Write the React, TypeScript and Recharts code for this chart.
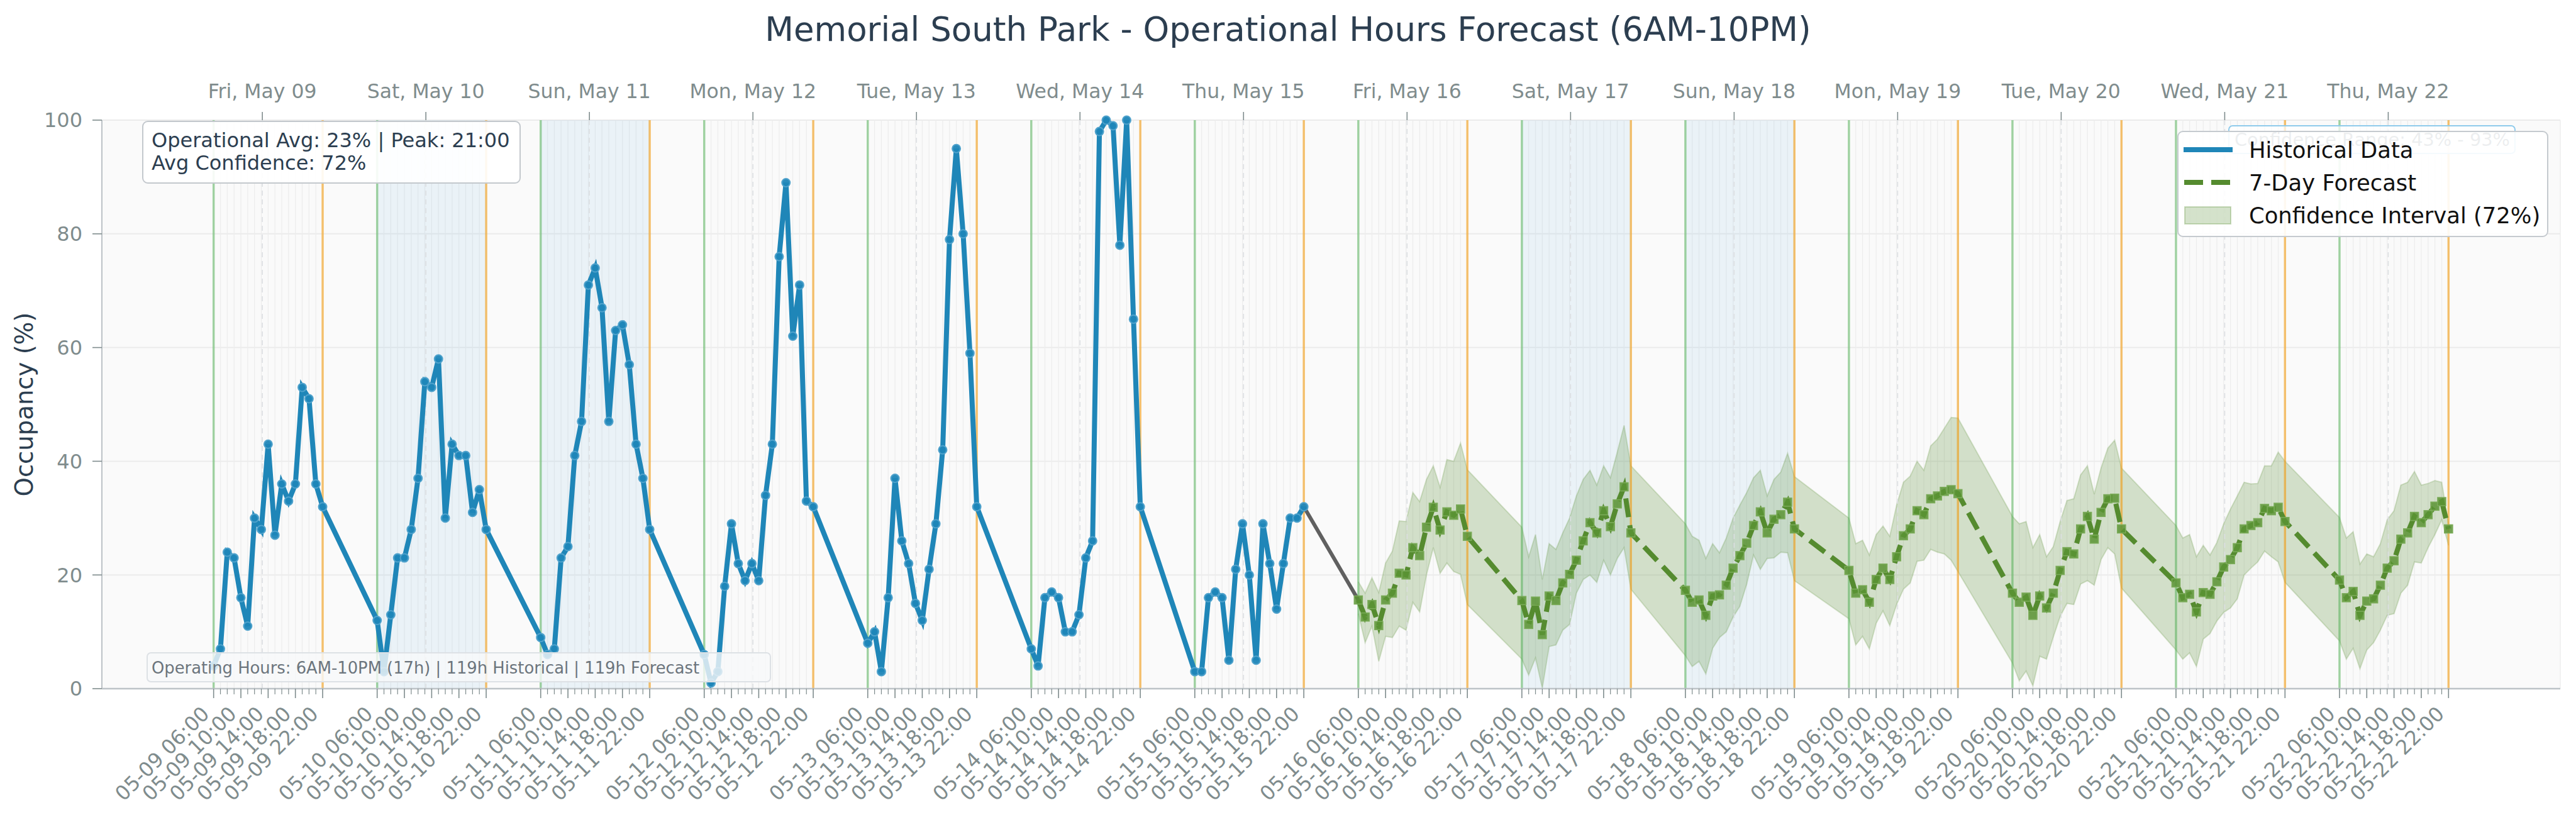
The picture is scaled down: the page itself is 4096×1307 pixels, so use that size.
import React from 'react';
import {
  ComposedChart,
  Line,
  Area,
  XAxis,
  YAxis,
  CartesianGrid,
  ReferenceLine,
  ReferenceArea,
  Legend,
} from 'recharts';

const W = 4096;
const H = 1307;
const FONT = '"DejaVu Sans", "Noto Sans", sans-serif';

// ---------- categories / labels ----------
const DAY_CODES = ['05-09', '05-10', '05-11', '05-12', '05-13', '05-14', '05-15', '05-16', '05-17', '05-18', '05-19', '05-20', '05-21', '05-22'];
const DAY_LABELS = ['Fri, May 09', 'Sat, May 10', 'Sun, May 11', 'Mon, May 12', 'Tue, May 13', 'Wed, May 14', 'Thu, May 15', 'Fri, May 16', 'Sat, May 17', 'Sun, May 18', 'Mon, May 19', 'Tue, May 20', 'Wed, May 21', 'Thu, May 22'];
const WEEKEND_DAY_INDEX = [1, 2, 8, 9];
const OPEN_HOURS = [6, 7, 8, 9, 10, 11, 12, 13, 14, 15, 16, 17, 18, 19, 20, 21, 22];
const MAJOR_HOURS = [6, 10, 14, 18, 22];
const OPEN_HOUR = 6;
const CLOSE_HOUR = 22;
const DAY_LABEL_HOUR = 13.15;
const Y_TICKS = [0, 20, 40, 60, 80, 100];

// ---------- historical occupancy (%) 06:00..22:00 ----------
const HIST_05_09 = [4, 7, 24, 23, 16, 11, 30, 28, 43, 27, 36, 33, 36, 53, 51, 36, 32];
const HIST_05_10 = [12, 3, 13, 23, 23, 28, 37, 54, 53, 58, 30, 43, 41, 41, 31, 35, 28];
const HIST_05_11 = [9, 6, 7, 23, 25, 41, 47, 71, 74, 67, 47, 63, 64, 57, 43, 37, 28];
const HIST_05_12 = [6, 1, 3, 18, 29, 22, 19, 22, 19, 34, 43, 76, 89, 62, 71, 33, 32];
const HIST_05_13 = [8, 10, 3, 16, 37, 26, 22, 15, 12, 21, 29, 42, 79, 95, 80, 59, 32];
const HIST_05_14 = [7, 4, 16, 17, 16, 10, 10, 13, 23, 26, 98, 100, 99, 78, 100, 65, 32];
const HIST_05_15 = [3, 3, 16, 17, 16, 5, 21, 29, 20, 5, 29, 22, 14, 22, 30, 30, 32];

// ---------- forecast (%) 06:00..22:00 ----------
const FC_05_16 = [15.6, 12.6, 14.8, 11.1, 15.6, 16.8, 20.3, 20.0, 24.8, 23.4, 28.4, 31.9, 27.9, 31.1, 30.5, 31.6, 26.8];
const FC_05_17 = [15.5, 11.3, 15.4, 9.5, 16.3, 15.5, 18.6, 20.1, 22.6, 26.0, 29.2, 27.4, 31.3, 28.5, 32.5, 35.5, 27.4];
const FC_05_18 = [17.3, 15.2, 15.6, 12.9, 16.3, 16.5, 18.2, 21.2, 23.4, 25.6, 28.7, 31.1, 27.4, 29.8, 30.6, 32.8, 28.1];
const FC_05_19 = [20.8, 16.8, 17.4, 15.2, 19.2, 21.2, 19.2, 23.2, 26.9, 28.1, 31.3, 30.6, 33.4, 33.9, 34.7, 35.0, 34.3];
const FC_05_20 = [16.8, 15.2, 16.1, 12.9, 16.3, 14.2, 16.8, 20.8, 24.1, 23.7, 28.1, 30.3, 26.3, 31.0, 33.4, 33.5, 28.1];
const FC_05_21 = [18.6, 16.0, 16.6, 13.5, 16.9, 16.6, 18.8, 21.4, 22.7, 24.8, 28.1, 28.7, 29.2, 31.7, 31.3, 31.9, 29.4];
const FC_05_22 = [19.1, 16.0, 17.1, 12.9, 15.4, 15.8, 18.2, 21.2, 22.5, 26.3, 27.4, 30.3, 29.2, 30.6, 32.1, 32.9, 28.1];

// ---------- confidence interval bounds (%) ----------
const LO_05_16 = [13.2, 8.1, 11.0, 4.8, 9.2, 9.0, 11.0, 10.3, 15.2, 13.5, 20.0, 24.8, 20.3, 22.1, 20.6, 20.1, 14.8];
const HI_05_16 = [18.8, 16.8, 19.5, 16.9, 22.1, 24.2, 29.5, 29.4, 34.5, 32.9, 36.8, 39.2, 35.4, 40.3, 40.0, 43.2, 38.5];
const LO_05_17 = [5.2, 2.4, 5.4, 0.1, 7.4, 7.7, 10.3, 11.3, 16.8, 19.2, 20.0, 18.7, 22.6, 20.0, 22.9, 24.8, 17.5];
const HI_05_17 = [28.4, 23.2, 27.1, 19.2, 25.5, 24.5, 27.4, 30.0, 33.9, 36.8, 38.4, 35.8, 39.2, 37.1, 41.6, 46.3, 39.2];
const LO_05_18 = [5.8, 3.9, 4.8, 2.6, 7.1, 9.0, 10.0, 12.6, 14.5, 18.4, 23.5, 21.0, 22.9, 23.0, 24.0, 23.9, 19.0];
const HI_05_18 = [29.0, 26.8, 26.1, 22.9, 25.5, 23.9, 26.5, 30.0, 32.3, 34.5, 37.1, 38.4, 33.9, 36.8, 38.1, 41.4, 37.3];
const LO_05_19 = [12.3, 7.7, 9.2, 7.0, 11.5, 13.7, 11.1, 14.8, 17.5, 18.6, 22.4, 22.6, 24.5, 24.0, 23.7, 22.6, 20.6];
const HI_05_19 = [30.0, 25.5, 26.1, 23.5, 27.1, 28.6, 26.8, 32.3, 36.3, 37.4, 40.0, 38.4, 42.7, 43.9, 45.8, 47.7, 47.6];
const LO_05_20 = [4.5, 1.4, 3.1, 0.5, 5.7, 5.2, 9.1, 12.7, 15.0, 14.8, 18.4, 19.0, 18.2, 22.7, 24.8, 23.7, 17.7];
const HI_05_20 = [30.3, 29.0, 29.4, 24.8, 27.1, 23.2, 25.0, 29.4, 33.1, 33.4, 37.6, 39.2, 34.2, 38.8, 42.3, 43.7, 38.8];
const LO_05_21 = [6.8, 5.2, 6.3, 3.9, 8.7, 9.7, 11.9, 13.4, 14.2, 15.8, 20.0, 21.2, 22.3, 24.2, 23.2, 22.3, 18.7];
const HI_05_21 = [28.7, 26.5, 27.1, 23.2, 25.2, 23.5, 25.7, 29.0, 31.6, 33.9, 36.3, 36.0, 36.1, 39.2, 39.2, 41.6, 40.0];
const LO_05_22 = [8.4, 5.2, 7.1, 3.5, 6.8, 8.1, 10.3, 12.9, 13.2, 16.8, 18.2, 22.3, 22.1, 24.8, 27.1, 29.7, 25.2];
const HI_05_22 = [30.1, 26.5, 27.6, 21.9, 23.7, 23.2, 25.5, 29.7, 31.3, 35.8, 36.3, 38.2, 35.8, 36.1, 36.6, 36.3, 29.0];

const HIST_DAYS = [HIST_05_09, HIST_05_10, HIST_05_11, HIST_05_12, HIST_05_13, HIST_05_14, HIST_05_15];
const FC_DAYS = [FC_05_16, FC_05_17, FC_05_18, FC_05_19, FC_05_20, FC_05_21, FC_05_22];
const LO_DAYS = [LO_05_16, LO_05_17, LO_05_18, LO_05_19, LO_05_20, LO_05_21, LO_05_22];
const HI_DAYS = [HI_05_16, HI_05_17, HI_05_18, HI_05_19, HI_05_20, HI_05_21, HI_05_22];
const FC_START_DAY = HIST_DAYS.length;

// time axis value = hours since 05-09 00:00
const histData = HIST_DAYS.flatMap((vals, d) => vals.map((v, i) => ({ t: d * 24 + OPEN_HOURS[i], hist: v })));
const fcData = FC_DAYS.flatMap((vals, j) =>
  vals.map((v, i) => ({ t: (j + FC_START_DAY) * 24 + OPEN_HOURS[i], fc: v, band: [LO_DAYS[j][i], HI_DAYS[j][i]] }))
);
const bridgeData = [
  { t: histData[histData.length - 1].t, bridge: histData[histData.length - 1].hist },
  { t: fcData[0].t, bridge: fcData[0].fc },
];

const hourTicks = DAY_CODES.flatMap((_, d) => OPEN_HOURS.map((h) => d * 24 + h));
const dayTicks = DAY_CODES.map((_, d) => d * 24 + DAY_LABEL_HOUR);
const firstT = OPEN_HOUR;
const lastT = (DAY_CODES.length - 1) * 24 + CLOSE_HOUR;
const pad = (lastT - firstT) * 0.05;
const X_DOMAIN: [number, number] = [firstT - pad, lastT + pad];

const C_HIST = '#1f86b8';
const C_FC = '#558b2f';
const C_TICK = '#7f8c8d';
const C_TEXT = '#2c3e50';

const two = (n: number) => (n < 10 ? '0' + n : '' + n);

const BottomTick = (props: any) => {
  const { x, y, payload } = props;
  const v = payload.value as number;
  const d = Math.floor(v / 24);
  const h = Math.round(v - d * 24);
  const major = MAJOR_HOURS.indexOf(h) >= 0;
  const lx = x - 5;
  const ly = y + 42;
  return (
    <g>
      <line x1={x} x2={x} y1={y} y2={y + (major ? 15 : 9)} stroke={C_TICK} strokeWidth={major ? 1.6 : 1.2} />
      {major ? (
        <text
          x={lx}
          y={ly}
          transform={`rotate(-45 ${lx} ${ly})`}
          textAnchor="end"
          fontSize={32}
          fontFamily={FONT}
          fill={C_TICK}
        >
          {`${DAY_CODES[d]} ${two(h)}:00`}
        </text>
      ) : null}
    </g>
  );
};

const TopTick = (props: any) => {
  const { x, y, payload } = props;
  const d = Math.floor((payload.value as number) / 24);
  return (
    <text x={x} y={y} textAnchor="middle" fontSize={31.5} fontFamily={FONT} fill={C_TICK}>
      {DAY_LABELS[d]}
    </text>
  );
};

const SquareDot = (p: any) => {
  const { cx, cy, index } = p;
  if (cx == null || cy == null) return <g key={`sq-${index}`} />;
  return (
    <rect
      key={`sq-${index}`}
      x={cx - 6.5}
      y={cy - 6.5}
      width={13}
      height={13}
      fill="#5a9334"
      fillOpacity={0.85}
      stroke="#7aab58"
      strokeWidth={1.6}
    />
  );
};

const LegendBox = () => (
  <div style={{ width: 590, height: 169, position: 'relative' }}>
    <svg width={590} height={169} style={{ position: 'absolute', left: 0, top: 0 }}>
      <rect x={1} y={1} width={588} height={167} rx={8} fill="#ffffff" fillOpacity={0.9} stroke="#c5cacf" strokeWidth={2} />
      <line x1={10} x2={88} y1={30} y2={30} stroke={C_HIST} strokeWidth={8} />
      <line x1={11} x2={88} y1={82} y2={82} stroke={C_FC} strokeWidth={8} strokeDasharray="30 13" />
      <rect x={12} y={121} width={73} height={27} fill={C_FC} fillOpacity={0.25} stroke={C_FC} strokeOpacity={0.3} strokeWidth={2} />
      <text x={114} y={43} fontSize={35.4} fontFamily={FONT} fill="#111">Historical Data</text>
      <text x={114} y={95} fontSize={35.4} fontFamily={FONT} fill="#111">7-Day Forecast</text>
      <text x={114} y={147} fontSize={35.4} fontFamily={FONT} fill="#111">Confidence Interval (72%)</text>
    </svg>
  </div>
);

export default function App() {
  return (
    <div style={{ position: 'absolute', left: 0, top: 0, width: W, height: H, background: '#ffffff', fontFamily: FONT }}>
      <div
        style={{
          position: 'absolute',
          left: 0,
          top: 16,
          width: W,
          textAlign: 'center',
          fontSize: 53,
          color: C_TEXT,
          lineHeight: '62px',
        }}
      >
        Memorial South Park - Operational Hours Forecast (6AM-10PM)
      </div>
      <div
        style={{
          position: 'absolute',
          left: 39 - 200,
          top: 643 - 25,
          width: 400,
          height: 50,
          lineHeight: '50px',
          textAlign: 'center',
          transform: 'rotate(-90deg)',
          fontSize: 38.6,
          color: C_TEXT,
        }}
      >
        Occupancy (%)
      </div>

      {/* faint box sitting behind the legend */}
      <div
        style={{
          position: 'absolute',
          left: 3543,
          top: 199,
          width: 457,
          height: 46,
          boxSizing: 'border-box',
          border: '2px solid #8fcbec',
          borderRadius: 7,
          background: 'rgba(255,255,255,0.7)',
          fontSize: 28.8,
          color: '#3d4f60',
          lineHeight: '42px',
          paddingLeft: 8,
          whiteSpace: 'nowrap',
          zIndex: 1,
        }}
      >
        Confidence Range: 43% - 93%
      </div>

      <div style={{ position: 'absolute', left: 0, top: 0 }}>
        <ComposedChart width={W} height={H} margin={{ top: 131, right: 25, bottom: 0, left: 62 }}>
          <CartesianGrid horizontal={true} vertical={false} fill="#fafafa" stroke="#ebebeb" strokeWidth={2} />
          {WEEKEND_DAY_INDEX.map((d) => (
            <ReferenceArea
              key={`we-${d}`}
              x1={d * 24 + OPEN_HOUR}
              x2={d * 24 + CLOSE_HOUR}
              y1={0}
              y2={100}
              fill="#3498db"
              fillOpacity={0.08}
              stroke="none"
              ifOverflow="visible"
            />
          ))}
          <CartesianGrid horizontal={false} vertical={true} stroke="#ededed" strokeWidth={1.3} />
          {DAY_CODES.map((_, d) => (
            <ReferenceLine key={`dl-${d}`} x={d * 24 + DAY_LABEL_HOUR} stroke="#dcdfe2" strokeWidth={1.6} strokeDasharray="8 6" />
          ))}
          {DAY_CODES.map((_, d) => (
            <ReferenceLine key={`op-${d}`} x={d * 24 + OPEN_HOUR} stroke="#4caf50" strokeOpacity={0.5} strokeWidth={3.5} />
          ))}
          {DAY_CODES.map((_, d) => (
            <ReferenceLine key={`cl-${d}`} x={d * 24 + CLOSE_HOUR} stroke="#f39c12" strokeOpacity={0.6} strokeWidth={3.5} />
          ))}

          <XAxis
            dataKey="t"
            type="number"
            domain={X_DOMAIN}
            allowDataOverflow
            ticks={hourTicks}
            interval={0}
            height={212}
            tickLine={false}
            tickSize={0}
            tickMargin={0}
            tick={<BottomTick />}
            axisLine={{ stroke: '#bdc3c7', strokeWidth: 2.5 }}
          />
          <XAxis
            xAxisId="top"
            orientation="top"
            dataKey="t"
            type="number"
            domain={X_DOMAIN}
            allowDataOverflow
            ticks={dayTicks}
            interval={0}
            height={60}
            axisLine={false}
            tickLine={{ stroke: C_TICK, strokeWidth: 1.6 }}
            tickSize={13}
            tickMargin={22}
            tick={<TopTick />}
          />
          <YAxis
            type="number"
            domain={[0, 100]}
            ticks={Y_TICKS}
            interval={0}
            width={100}
            tickSize={15}
            tickMargin={16}
            axisLine={{ stroke: '#bdc3c7', strokeWidth: 2 }}
            tickLine={{ stroke: C_TICK, strokeWidth: 1.6 }}
            tick={{ fill: C_TICK, fontSize: 32, fontFamily: FONT }}
          />

          <Area
            data={fcData}
            dataKey="band"
            type="linear"
            fill={C_FC}
            fillOpacity={0.24}
            stroke={C_FC}
            strokeOpacity={0.22}
            strokeWidth={2}
            isAnimationActive={false}
            legendType="none"
          />
          <Line
            data={bridgeData}
            dataKey="bridge"
            type="linear"
            stroke="#606060"
            strokeWidth={6}
            dot={false}
            activeDot={false}
            isAnimationActive={false}
            legendType="none"
          />
          <Line
            data={histData}
            dataKey="hist"
            name="Historical Data"
            type="linear"
            stroke={C_HIST}
            strokeWidth={8}
            dot={{ r: 6.5, fill: C_HIST, fillOpacity: 0.95, stroke: '#4fa2cc', strokeWidth: 2 }}
            activeDot={false}
            isAnimationActive={false}
          />
          <Line
            data={fcData}
            dataKey="fc"
            name="7-Day Forecast"
            type="linear"
            stroke={C_FC}
            strokeWidth={8}
            strokeDasharray="30 13"
            dot={SquareDot}
            activeDot={false}
            isAnimationActive={false}
          />
          <Legend
            layout="horizontal"
            verticalAlign="middle"
            align="center"
            content={<LegendBox />}
            wrapperStyle={{ position: 'absolute', left: 3462, top: 208, width: 590, height: 169, zIndex: 3 }}
          />
        </ComposedChart>
      </div>

      {/* annotation boxes */}
      <div
        style={{
          position: 'absolute',
          left: 226,
          top: 192,
          width: 602,
          height: 100,
          boxSizing: 'border-box',
          background: 'rgba(255,255,255,0.9)',
          border: '2.5px solid #c3c8cd',
          borderRadius: 9,
          padding: '11px 0 0 13px',
          fontSize: 32,
          lineHeight: '36px',
          color: C_TEXT,
          whiteSpace: 'nowrap',
          zIndex: 2,
        }}
      >
        <div>Operational Avg: 23% | Peak: 21:00</div>
        <div>Avg Confidence: 72%</div>
      </div>
      <div
        style={{
          position: 'absolute',
          left: 233,
          top: 1037,
          width: 993,
          height: 48,
          boxSizing: 'border-box',
          background: 'rgba(248,249,250,0.8)',
          border: '2px solid #dde1e5',
          borderRadius: 7,
          padding: '8px 0 0 6px',
          fontSize: 25.8,
          lineHeight: '30px',
          color: '#6c757d',
          whiteSpace: 'nowrap',
          zIndex: 2,
        }}
      >
        Operating Hours: 6AM-10PM (17h) | 119h Historical | 119h Forecast
      </div>
    </div>
  );
}
